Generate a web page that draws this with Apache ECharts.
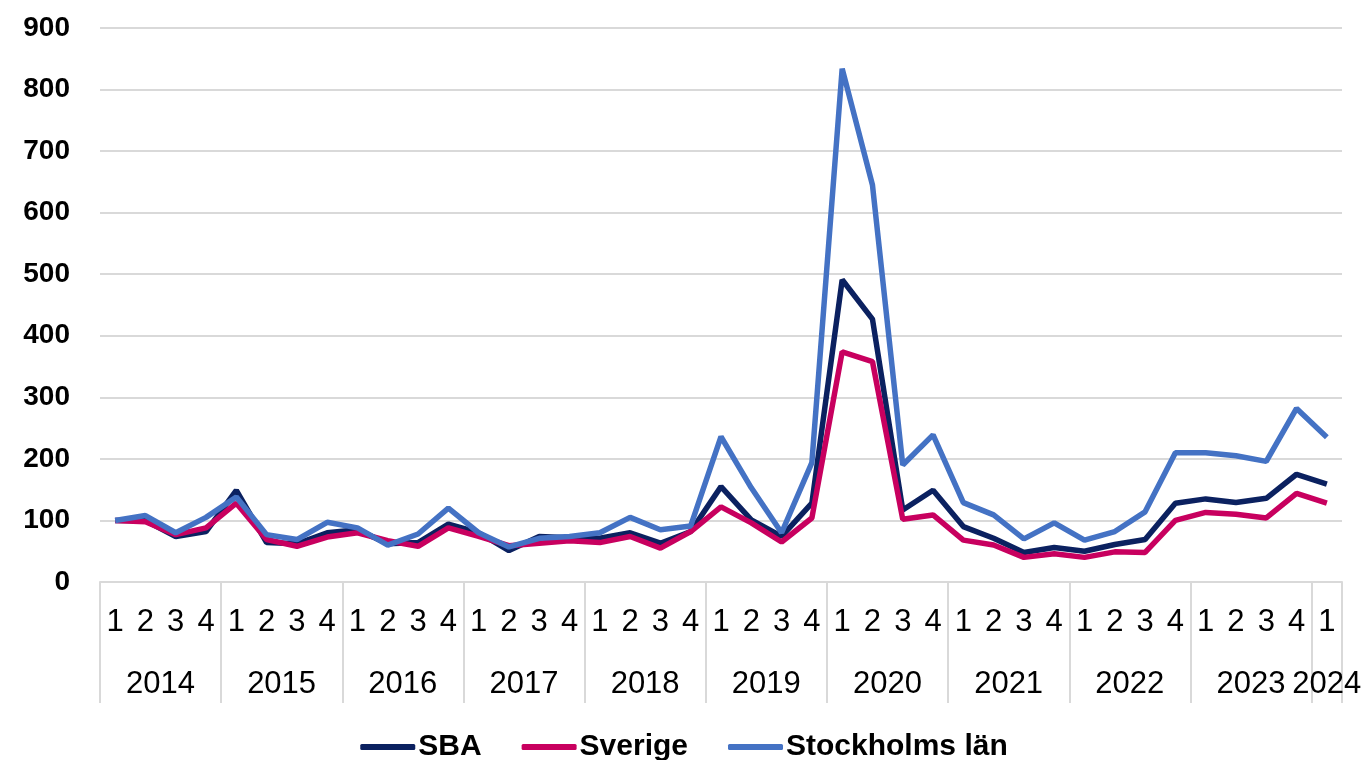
<!DOCTYPE html>
<html>
<head>
<meta charset="utf-8">
<script src="https://cdn.jsdelivr.net/npm/echarts@6/dist/echarts.min.js"></script>
<style>
  html, body { margin: 0; padding: 0; background: #fff; }
  #chart { width: 1368px; height: 760px; }
</style>
</head>
<body>
<div id="chart"></div>
<script>
  // kvartal och år
  var years = ['2014', '2015', '2016', '2017', '2018', '2019', '2020', '2021', '2022', '2023', '2024'];
  var quartersPerYear = [4, 4, 4, 4, 4, 4, 4, 4, 4, 4, 1];

  // serier (index, 2014 kv1 = 100)
  var sba = [100, 100, 74, 82, 149, 64, 62, 80, 85, 62, 64, 94, 80, 51, 74, 72, 71, 80, 63, 82,
             155, 101, 74, 128, 491, 427, 117, 149, 90, 71, 48, 56, 50, 61, 69, 128, 135, 129, 136, 175, 159];
  var sverige = [100, 98, 77, 88, 128, 69, 58, 73, 80, 67, 58, 88, 74, 59, 63, 67, 64, 74, 55, 82,
                 122, 96, 65, 104, 374, 358, 102, 109, 68, 60, 40, 46, 40, 49, 48, 100, 113, 110, 104, 144, 128];
  var stockholm = [100, 108, 80, 105, 138, 77, 69, 97, 88, 60, 78, 120, 80, 57, 71, 74, 80, 105, 85, 91,
                   236, 153, 80, 194, 834, 645, 190, 239, 129, 109, 70, 96, 68, 82, 114, 210, 210, 205, 196, 282, 235];

  var quarterLabels = [];
  var yearLabels = [];
  var groupStart = {};
  years.forEach(function (y, i) {
    for (var q = 0; q < quartersPerYear[i]; q++) {
      if (q === 0) groupStart[quarterLabels.length] = true;
      quarterLabels.push(String(q + 1));
      // år-etikett mitt i gruppen
      if (quartersPerYear[i] === 4) {
        yearLabels.push(q === 1 ? '{s|' + y + '}' : '');
      } else {
        yearLabels.push(q === 0 ? y : '');
      }
    }
  });
  var n = quarterLabels.length;

  var myChart = echarts.init(document.getElementById('chart'));
  var fontCat = '"Liberation Sans", Arial, sans-serif';
  var fontBold = '"Liberation Sans", Arial, sans-serif';

  myChart.setOption({
    animation: false,
    color: ['#0b2160', '#c8005f', '#4472c4'],
    grid: { left: 100, right: 26, top: 28, bottom: 178 },
    legend: {
      top: 727,
      left: 'center',
      icon: 'roundRect',
      itemWidth: 55,
      itemHeight: 6,
      itemGap: 40,
      textStyle: { fontFamily: fontBold, fontWeight: 'bold', fontSize: 30, color: '#000', padding: [0, 0, 0, -2] },
      data: ['SBA', 'Sverige', 'Stockholms län']
    },
    xAxis: [
      {
        type: 'category',
        data: quarterLabels,
        boundaryGap: true,
        axisLine: { show: true, lineStyle: { color: '#d9d9d9', width: 2 } },
        axisTick: {
          show: true,
          length: 121,
          lineStyle: { color: '#d9d9d9', width: 2 },
          interval: function (idx) { return !!groupStart[idx] || idx >= n; }
        },
        axisLabel: {
          interval: 0,
          margin: 25,
          fontFamily: fontCat,
          fontSize: 31,
          color: '#000'
        }
      },
      {
        type: 'category',
        data: yearLabels,
        position: 'bottom',
        boundaryGap: true,
        axisLine: { show: false },
        axisTick: { show: false },
        axisLabel: {
          interval: 0,
          margin: 87,
          fontFamily: fontCat,
          fontSize: 31,
          color: '#000',
          rich: {
            s: { fontFamily: fontCat, fontSize: 31, color: '#000', padding: [0, 0, 0, 30] }
          }
        }
      }
    ],
    yAxis: {
      type: 'value',
      min: 0,
      max: 900,
      interval: 100,
      axisLine: { show: false },
      axisTick: { show: false },
      splitLine: { lineStyle: { color: '#d9d9d9', width: 2 } },
      axisLabel: {
        margin: 30,
        fontFamily: fontBold,
        fontWeight: 'bold',
        fontSize: 28,
        color: '#000'
      }
    },
    series: [
      { name: 'SBA', type: 'line', data: sba, symbol: 'none', lineStyle: { width: 5.5 } },
      { name: 'Sverige', type: 'line', data: sverige, symbol: 'none', lineStyle: { width: 5.5 } },
      { name: 'Stockholms län', type: 'line', data: stockholm, symbol: 'none', lineStyle: { width: 5.5 } }
    ]
  });
</script>
</body>
</html>
